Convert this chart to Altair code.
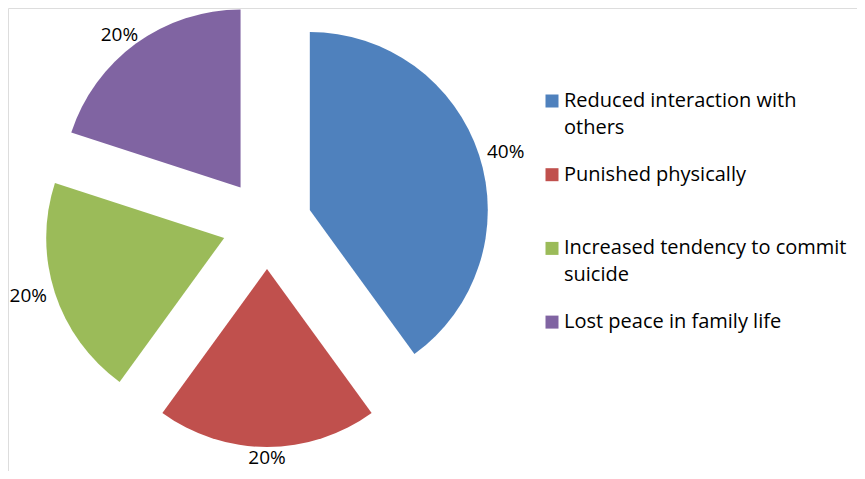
import altair as alt
import pandas as pd

# ---- data ----
categories = [
    "Reduced interaction with others",
    "Punished physically",
    "Increased tendency to commit suicide",
    "Lost peace in family life",
]
legend_lines = [
    ["Reduced interaction with", "others"],
    ["Punished physically"],
    ["Increased tendency to commit", "suicide"],
    ["Lost peace in family life"],
]
values = [40, 20, 20, 20]
colors = ["#4F81BD", "#C0504D", "#9BBB59", "#8064A2"]

# ---- layout / style ----
W, H = 849, 463
CX, CY = 259, 216          # pie centre (plot coords)
R = 178                    # pie radius
EXPLODE = 45               # slice explosion distance
GAP = 4                    # gap between arc and label box
HW, HH = 24, 7             # half extents of a label box
FONT = "Open Sans"
FS = 20
LFS = 19
LEG_X = 544                # square centre x
LEG_Y0 = 93                # first square centre y
LEG_STEP = 73.7
LINE_H = 27

df = pd.DataFrame({"category": categories, "value": values, "order": list(range(len(values)))})

base = (
    alt.Chart(df)
    .transform_joinaggregate(total="sum(value)")
    .transform_window(cum="sum(value)", sort=[alt.SortField("order")], frame=[None, 0])
    .transform_calculate(end="datum.cum / datum.total * 2 * PI")
    .transform_calculate(start="(datum.cum - datum.value) / datum.total * 2 * PI")
    .transform_calculate(mid="(datum.start + datum.end) / 2")
    .transform_calculate(cx=f"{CX} + {EXPLODE} * sin(datum.mid)")
    .transform_calculate(cy=f"{CY} - {EXPLODE} * cos(datum.mid)")
    .transform_calculate(lx=f"datum.cx + ({R} + {GAP} + {HW}) * sin(datum.mid)")
    .transform_calculate(ly=f"datum.cy - ({R} + {GAP} + {HH}) * cos(datum.mid)")
    .transform_calculate(pct="format(datum.value / datum.total, '.0%')")
)

color = alt.Color("category:N", scale=alt.Scale(domain=categories, range=colors), legend=None)

arcs = base.mark_arc(radius=R, strokeWidth=0).encode(
    theta=alt.Theta("start:Q", scale=None, stack=None),
    theta2="end:Q",
    x=alt.X("cx:Q", scale=None, axis=None),
    y=alt.Y("cy:Q", scale=None, axis=None),
    color=color,
)

labels = base.mark_text(font=FONT, fontSize=LFS, color="#000000", align="center", baseline="middle").encode(
    x=alt.X("lx:Q", scale=None, axis=None),
    y=alt.Y("ly:Q", scale=None, axis=None),
    text="pct:N",
)

# legend
leg_sq = alt.Chart(df).transform_calculate(
    ly=f"{LEG_Y0} + datum.order * {LEG_STEP}"
).mark_square(size=13 * 13, opacity=1, filled=True).encode(
    x=alt.value(LEG_X),
    y=alt.Y("ly:Q", scale=None, axis=None),
    color=color,
)

rows = []
for i, lines in enumerate(legend_lines):
    for j, t in enumerate(lines):
        rows.append({"order": i, "line": j, "text": t})
ldf = pd.DataFrame(rows)

leg_txt = alt.Chart(ldf).transform_calculate(
    ty=f"{LEG_Y0} + datum.order * {LEG_STEP} + datum.line * {LINE_H}"
).mark_text(font=FONT, fontSize=FS, color="#000000", align="left", baseline="middle").encode(
    x=alt.value(LEG_X + 12),
    y=alt.Y("ty:Q", scale=None, axis=None),
    text="text:N",
)

chart = (
    alt.layer(arcs, labels, leg_sq, leg_txt)
    .properties(width=W, height=H, padding=0, autosize=alt.AutoSizeParams(type="none"))
    .configure_view(strokeWidth=0, stroke="transparent")
    .configure(background="white")
)

chart.save("out.html", embed_options={"renderer": "svg", "actions": False})
